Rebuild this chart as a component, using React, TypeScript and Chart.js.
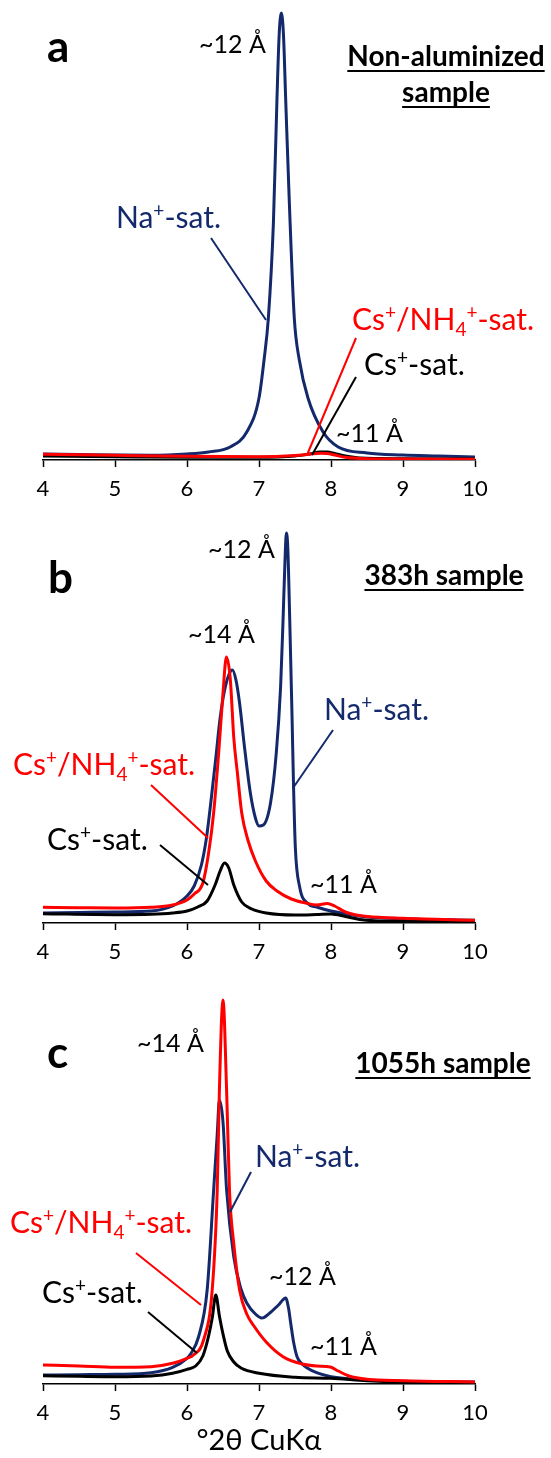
import React, { useEffect, useRef } from 'react';
import { Chart, registerables } from 'chart.js';

Chart.register(...registerables);

const FONT = "Lato, 'Noto Sans', sans-serif";
const NAVY = '#13296B';
const RED = '#FF0000';
const BLACK = '#000000';

// x-axis ticks (°2θ)
const X_MIN = 4;
const X_MAX = 10;
const X_STEP = 1;
const X_TITLE = '°2θ CuKα';

// ---------- Panel a : Non-aluminized sample ----------
const aNaX = [4, 4.5, 5, 5.5, 6, 6.3, 6.6, 6.83, 7.0, 7.07, 7.13, 7.2, 7.25, 7.28, 7.31, 7.34, 7.37, 7.42, 7.49, 7.56, 7.68, 7.89, 8.1, 8.5, 9, 9.5, 10];
const aNaY = [6, 5.5, 5, 4.7, 6, 8, 13, 28, 62, 100, 142, 237, 362, 425, 447, 425, 362, 260, 142, 100, 62, 28, 13, 7, 5, 4, 3];
const aCsNhX = [4, 5, 6, 7, 7.5, 7.7, 7.85, 7.95, 8.05, 8.2, 8.5, 9, 10];
const aCsNhY = [5.7, 4.7, 3.7, 3.3, 4.5, 5.8, 6.7, 6.5, 5, 2.7, 1.3, 1, 0.7];
const aCsX = [4, 5, 6, 7, 7.5, 7.7, 7.85, 7.95, 8.05, 8.2, 8.4, 9, 10];
const aCsY = [4, 3.3, 2.7, 2.7, 4, 6, 8, 8, 6.5, 4, 2, 1.3, 1];

// ---------- Panel b : 383h sample ----------
const bNaX = [4, 4.5, 5, 5.5, 5.8, 6.0, 6.1, 6.2, 6.27, 6.33, 6.4, 6.46, 6.52, 6.58, 6.63, 6.68, 6.73, 6.8, 6.88, 6.95, 7.0, 7.06, 7.16, 7.24, 7.3, 7.334, 7.36, 7.38, 7.4, 7.427, 7.46, 7.48, 7.505, 7.565, 7.67, 7.8, 8.0, 8.3, 8.5, 9, 10];
const bNaY = [10, 10.5, 11, 12, 17, 27, 37, 58, 85, 120, 165, 205, 232, 248, 253, 243, 220, 175, 130, 105, 97, 98, 120, 170, 236, 303, 360, 390, 375, 303, 203, 136, 75, 36, 20, 16, 12, 8, 6, 4.3, 2.7];
const bCsNhX = [4, 4.5, 5, 5.5, 5.8, 6.0, 6.1, 6.22, 6.3, 6.37, 6.44, 6.5, 6.547, 6.6, 6.65, 6.7, 6.76, 6.85, 6.95, 7.1, 7.25, 7.45, 7.65, 7.8, 7.95, 8.05, 8.2, 8.35, 8.5, 9, 10];
const bCsNhY = [15.7, 15.3, 15, 15.7, 18, 23, 29, 40, 70, 110, 170, 230, 266, 245, 185, 150, 110, 82, 62, 42, 32, 24, 20, 18, 19.5, 17, 11, 8, 6.5, 4.7, 2.7];
const bCsX = [4, 5, 5.5, 5.8, 6.0, 6.15, 6.28, 6.39, 6.46, 6.52, 6.58, 6.65, 6.76, 6.9, 7.1, 7.5, 7.8, 8.0, 8.2, 8.4, 8.6, 9, 10];
const bCsY = [9.3, 8.3, 8.7, 10, 12, 16, 22, 38, 52, 60, 55, 38, 21, 14, 10, 8, 8.5, 9, 6.5, 3.5, 2.2, 1.7, 1.3];

// ---------- Panel c : 1055h sample ----------
const cNaX = [4, 4.5, 5, 5.5, 5.8, 6.0, 6.05, 6.16, 6.28, 6.37, 6.42, 6.45, 6.5, 6.55, 6.65, 6.75, 6.83, 6.95, 7.04, 7.15, 7.27, 7.37, 7.41, 7.44, 7.48, 7.53, 7.6, 7.67, 7.8, 8.0, 8.5, 9, 10];
const cNaY = [9, 9.3, 9.7, 11.3, 16.7, 25.7, 30, 47, 94, 194, 250, 284, 262, 194, 127, 95, 81, 70, 66, 71, 79, 86, 76, 61, 42, 27, 20, 16, 11.3, 7.3, 4, 2.7, 2];
const cCsNhX = [4, 4.5, 5, 5.5, 5.8, 6.0, 6.09, 6.23, 6.35, 6.42, 6.45, 6.5, 6.55, 6.59, 6.65, 6.73, 6.83, 6.93, 7.1, 7.34, 7.6, 7.8, 7.99, 8.1, 8.25, 8.5, 9, 10];
const cCsNhY = [19, 18, 16.7, 17.3, 20.7, 25.7, 29, 44, 94, 194, 294, 384, 294, 194, 140, 94, 70, 58, 42, 27, 20, 18, 17, 13, 8, 4.7, 3.3, 2];
const cCsX = [4, 4.5, 5, 5.5, 5.8, 6.0, 6.12, 6.22, 6.3, 6.35, 6.4, 6.45, 6.5, 6.56, 6.65, 6.75, 7.0, 7.5, 8.0, 8.5, 9, 10];
const cCsY = [8.3, 7.7, 7.3, 8, 10.7, 14.7, 18, 28, 48, 66, 89, 68, 50, 33, 22, 16, 10.7, 6.7, 5.7, 3.3, 2, 1.3];

type Seg = [string, 'n' | 'sup' | 'sub'];
type Note =
  | { kind: 'text'; segs: Seg[]; x: number; y: number; size: number; color: string; bold?: boolean; align?: 'left' | 'center'; underline?: boolean }
  | { kind: 'line'; x1: number; y1: number; x2: number; y2: number; color: string };

const NA: Seg[] = [['Na', 'n'], ['+', 'sup'], ['-sat.', 'n']];
const CSNH: Seg[] = [['Cs', 'n'], ['+', 'sup'], ['/NH', 'n'], ['4', 'sub'], ['+', 'sup'], ['-sat.', 'n']];
const CS: Seg[] = [['Cs', 'n'], ['+', 'sup'], ['-sat.', 'n']];
const t = (s: string): Seg[] => [[s, 'n']];

const notesA: Note[] = [
  { kind: 'text', segs: t('a'), x: 47, y: 62, size: 44, color: BLACK, bold: true },
  { kind: 'text', segs: t('~12 Å'), x: 199, y: 53, size: 25, color: BLACK },
  { kind: 'text', segs: t('Non-aluminized'), x: 446, y: 66, size: 28, color: BLACK, bold: true, align: 'center', underline: true },
  { kind: 'text', segs: t('sample'), x: 446, y: 102, size: 28, color: BLACK, bold: true, align: 'center', underline: true },
  { kind: 'text', segs: NA, x: 116, y: 228, size: 30, color: NAVY },
  { kind: 'line', x1: 211, y1: 238, x2: 266, y2: 320, color: NAVY },
  { kind: 'text', segs: CSNH, x: 352, y: 330, size: 30, color: RED },
  { kind: 'line', x1: 356, y1: 338, x2: 307, y2: 455, color: RED },
  { kind: 'text', segs: CS, x: 364, y: 375, size: 30, color: BLACK },
  { kind: 'line', x1: 356, y1: 377, x2: 312, y2: 455, color: BLACK },
  { kind: 'text', segs: t('~11 Å'), x: 336, y: 442, size: 25, color: BLACK },
];

const notesB: Note[] = [
  { kind: 'text', segs: t('b'), x: 48, y: 593, size: 44, color: BLACK, bold: true },
  { kind: 'text', segs: t('~12 Å'), x: 208, y: 558, size: 25, color: BLACK },
  { kind: 'text', segs: t('383h sample'), x: 444, y: 585, size: 28, color: BLACK, bold: true, align: 'center', underline: true },
  { kind: 'text', segs: t('~14 Å'), x: 188, y: 643, size: 25, color: BLACK },
  { kind: 'text', segs: NA, x: 324, y: 720, size: 30, color: NAVY },
  { kind: 'line', x1: 333, y1: 730, x2: 293, y2: 788, color: NAVY },
  { kind: 'text', segs: CSNH, x: 13, y: 775, size: 30, color: RED },
  { kind: 'line', x1: 151, y1: 785, x2: 208, y2: 838, color: RED },
  { kind: 'text', segs: CS, x: 47, y: 850, size: 30, color: BLACK },
  { kind: 'line', x1: 160, y1: 845, x2: 208, y2: 885, color: BLACK },
  { kind: 'text', segs: t('~11 Å'), x: 310, y: 893, size: 25, color: BLACK },
];

const notesC: Note[] = [
  { kind: 'text', segs: t('c'), x: 47, y: 1068, size: 44, color: BLACK, bold: true },
  { kind: 'text', segs: t('~14 Å'), x: 137, y: 1052, size: 25, color: BLACK },
  { kind: 'text', segs: t('1055h sample'), x: 443, y: 1073, size: 28, color: BLACK, bold: true, align: 'center', underline: true },
  { kind: 'text', segs: NA, x: 255, y: 1167, size: 30, color: NAVY },
  { kind: 'line', x1: 251, y1: 1172, x2: 230, y2: 1212, color: NAVY },
  { kind: 'text', segs: CSNH, x: 10, y: 1233, size: 30, color: RED },
  { kind: 'line', x1: 136, y1: 1253, x2: 201, y2: 1305, color: RED },
  { kind: 'text', segs: CS, x: 42, y: 1303, size: 30, color: BLACK },
  { kind: 'line', x1: 148, y1: 1312, x2: 197, y2: 1353, color: BLACK },
  { kind: 'text', segs: t('~12 Å'), x: 269, y: 1285, size: 25, color: BLACK },
  { kind: 'text', segs: t('~11 Å'), x: 310, y: 1355, size: 25, color: BLACK },
];

function segFont(size: number, kind: string, bold?: boolean) {
  const s = kind === 'n' ? size : Math.round(size * 0.62);
  return `${bold ? 'bold ' : ''}${s}px ${FONT}`;
}

function drawNotes(ctx: CanvasRenderingContext2D, notes: Note[], offsetY: number) {
  ctx.save();
  for (const n of notes) {
    if (n.kind === 'line') {
      ctx.strokeStyle = n.color;
      ctx.lineWidth = 2;
      ctx.beginPath();
      ctx.moveTo(n.x1, n.y1 - offsetY);
      ctx.lineTo(n.x2, n.y2 - offsetY);
      ctx.stroke();
      continue;
    }
    let width = 0;
    for (const [s, k] of n.segs) {
      ctx.font = segFont(n.size, k, n.bold);
      width += ctx.measureText(s).width;
    }
    let x = n.align === 'center' ? n.x - width / 2 : n.x;
    const x0 = x;
    const y = n.y - offsetY;
    ctx.fillStyle = n.color;
    ctx.textAlign = 'left';
    ctx.textBaseline = 'alphabetic';
    for (const [s, k] of n.segs) {
      ctx.font = segFont(n.size, k, n.bold);
      const dy = k === 'sup' ? -n.size * 0.36 : k === 'sub' ? n.size * 0.2 : 0;
      ctx.fillText(s, x, y + dy);
      x += ctx.measureText(s).width;
    }
    if (n.underline) {
      ctx.strokeStyle = n.color;
      ctx.lineWidth = 2;
      ctx.beginPath();
      ctx.moveTo(x0, y + 5);
      ctx.lineTo(x0 + width, y + 5);
      ctx.stroke();
    }
  }
  ctx.restore();
}

function pts(xs: number[], ys: number[]) {
  return xs.map((x, i) => ({ x, y: ys[i] }));
}

type PanelProps = {
  top: number;
  height: number;
  bottomH: number;
  yMax: number;
  series: { label: string; xs: number[]; ys: number[]; color: string }[];
  notes: Note[];
  showTitle?: boolean;
};

function Panel({ top, height, bottomH, yMax, series, notes, showTitle }: PanelProps) {
  const ref = useRef<HTMLCanvasElement>(null);
  useEffect(() => {
    const canvas = ref.current!;
    const notesPlugin = {
      id: 'notes' + top,
      afterDraw(chart: any) {
        drawNotes(chart.ctx, notes, top);
      },
    };
    const chart = new Chart(canvas, {
      type: 'line',
      data: {
        datasets: series.map((s) => ({
          label: s.label,
          data: pts(s.xs, s.ys),
          borderColor: s.color,
          backgroundColor: s.color,
          borderWidth: 3,
          pointRadius: 0,
          fill: false,
          cubicInterpolationMode: 'monotone' as const,
        })),
      },
      options: {
        animation: false,
        responsive: false,
        maintainAspectRatio: false,
        events: [],
        layout: { padding: { left: 43, right: 76, top: 10, bottom: 0 } },
        plugins: { legend: { display: false }, tooltip: { enabled: false }, title: { display: false } },
        scales: {
          x: {
            type: 'linear',
            min: X_MIN,
            max: X_MAX,
            afterFit: (scale: any) => {
              scale.height = bottomH;
            },
            ticks: {
              stepSize: X_STEP,
              autoSkip: false,
              maxRotation: 0,
              color: BLACK,
              padding: 9,
              font: { family: FONT, size: 22 },
            },
            grid: {
              display: true,
              drawOnChartArea: false,
              drawTicks: true,
              tickLength: 7,
              tickWidth: 1.5,
              tickColor: BLACK,
              color: BLACK,
            },
            border: { display: true, color: BLACK, width: 1.5 },
            title: {
              display: !!showTitle,
              text: X_TITLE,
              color: BLACK,
              padding: 0,
              font: { family: FONT, size: 29 },
            },
          },
          y: { display: false, min: 0, max: yMax },
        },
      },
      plugins: [notesPlugin],
    });
    return () => chart.destroy();
  }, []);
  return (
    <canvas
      ref={ref}
      width={551}
      height={height}
      style={{ position: 'absolute', left: 0, top, width: 551, height, display: 'block' }}
    />
  );
}

export default function App() {
  return (
    <div style={{ position: 'absolute', left: 0, top: 0, width: 551, height: 1458, background: '#ffffff', overflow: 'hidden' }}>
      <Panel
        top={0}
        height={505}
        bottomH={45}
        yMax={450}
        notes={notesA}
        series={[
          { label: 'Cs+/NH4+-sat.', xs: aCsNhX, ys: aCsNhY, color: RED },
          { label: 'Cs+-sat.', xs: aCsX, ys: aCsY, color: BLACK },
          { label: 'Na+-sat.', xs: aNaX, ys: aNaY, color: NAVY },
        ]}
      />
      <Panel
        top={505}
        height={463}
        bottomH={45}
        yMax={408}
        notes={notesB}
        series={[
          { label: 'Cs+/NH4+-sat.', xs: bCsNhX, ys: bCsNhY, color: RED },
          { label: 'Cs+-sat.', xs: bCsX, ys: bCsY, color: BLACK },
          { label: 'Na+-sat.', xs: bNaX, ys: bNaY, color: NAVY },
        ]}
      />
      <Panel
        top={968}
        height={490}
        bottomH={74}
        yMax={406}
        notes={notesC}
        showTitle
        series={[
          { label: 'Cs+/NH4+-sat.', xs: cCsNhX, ys: cCsNhY, color: RED },
          { label: 'Cs+-sat.', xs: cCsX, ys: cCsY, color: BLACK },
          { label: 'Na+-sat.', xs: cNaX, ys: cNaY, color: NAVY },
        ]}
      />
    </div>
  );
}
